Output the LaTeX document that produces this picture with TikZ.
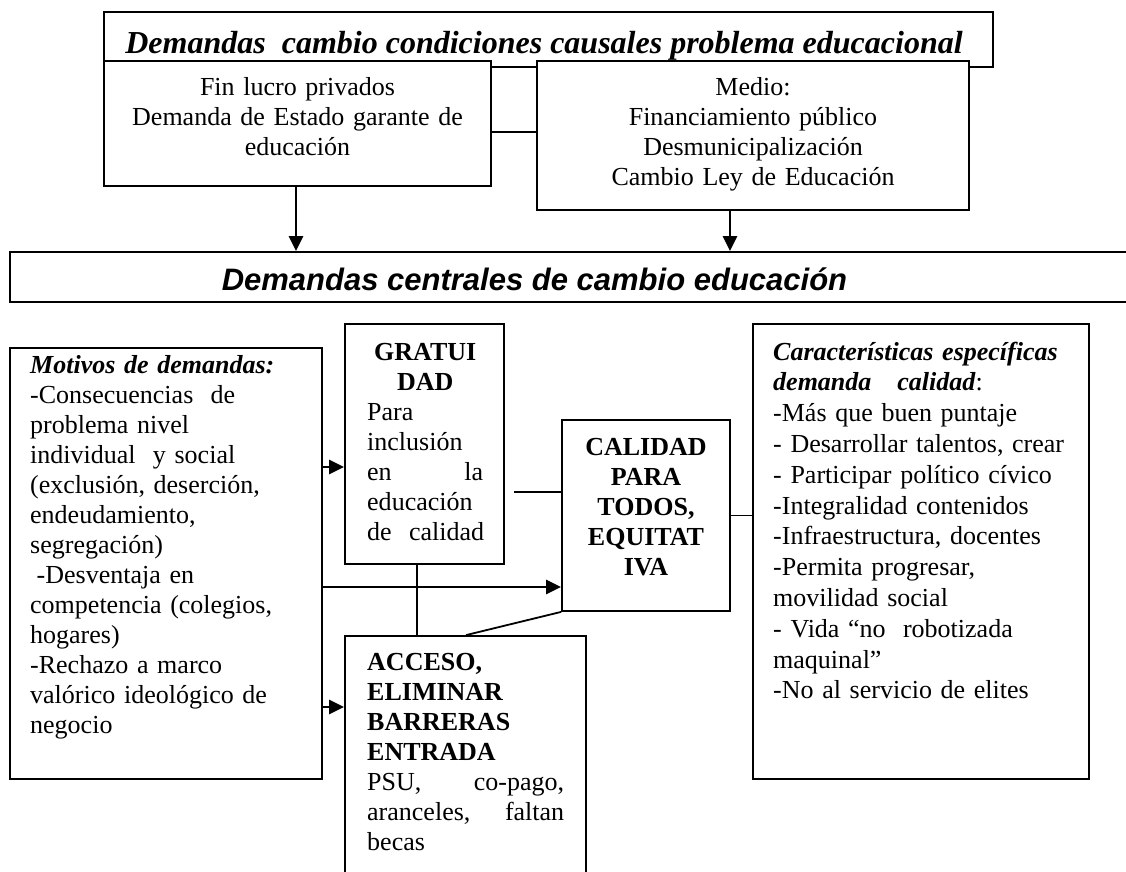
\documentclass[tikz,border=0pt]{standalone}
\usepackage{fontspec}
\setmainfont{Liberation Serif}
\setsansfont{Liberation Sans}
\usetikzlibrary{arrows.meta,fit}

\begin{document}
\begin{tikzpicture}[x=1pt,y=-1pt,
		box/.style={draw,line width=1.8pt,fill=white,inner sep=0pt},
		body/.style={font=\fontsize{26}{30}\selectfont,inner sep=0pt},
		head/.style={font=\fontsize{32}{36}\selectfont\bfseries\itshape,inner sep=0pt},
		band/.style={font=\sffamily\fontsize{31}{36}\selectfont\bfseries\itshape,inner sep=0pt},
		link/.style={line width=1.8pt},
		arr/.style={line width=2.6pt,-{Triangle[length=15pt,width=14pt]}}]
				\useasboundingbox (0,0) rectangle (1126,871);
				\node[box,fit={(104,12) (993,67)}] (causas) {};
				\node[head,anchor=base] (causastxt) at (544,53) {Demandas\ \ cambio condiciones causales problema educacional};
				\node[box,fit={(104,61) (491,186)}] (lucro) {};
				\node[body,anchor=base,text width=380pt,align=center] (lucrotxt) at (297.5,95) {Fin lucro privados\\Demanda de Estado garante de\\educación};
				\node[box,fit={(537,61) (969,210)}] (medio) {};
				\node[body,anchor=base,text width=420pt,align=center] (mediotxt) at (753,95) {Medio:\\Financiamiento público\\Desmunicipalización\\Cambio Ley de Educación};
				\node[box,fit={(10,252) (1140,302)}] (centrales) {};
				\node[band,anchor=base] (centralestxt) at (534.5,290) {Demandas centrales de cambio educación};
				\node[box,fit={(10,348) (322,779)}] (motivos) {};
				\node[body,anchor=base west,text width=290pt,align=left] (motivostxt) at (30,373) {\textbf{\textit{Motivos de demandas:}}\\-Consecuencias\ \ de\\problema nivel\\individual\ \ y social\\(exclusión, deserción,\\endeudamiento,\\segregación)\\\hspace*{6.5pt}-Desventaja en\\competencia (colegios,\\hogares)\\-Rechazo a marco\\valórico ideológico de\\negocio};
				\node[box,fit={(345,324) (504,564)}] (gratuidad) {};
				\node[body,anchor=base west,text width=124pt,align=left] (gratuidadtxt) at (367,360) {\makebox[116pt]{\bfseries GRATUI}\\\makebox[116pt]{\bfseries DAD}\\Para\\inclusión\\\makebox[116pt]{en\hfill la}\\educación\\\mbox{de\ \ calidad}};
				\node[box,fit={(562,420) (730,611)}] (calidad) {};
				\node[body,anchor=base,text width=168pt,align=center,font=\fontsize{26}{30}\selectfont\bfseries] (calidadtxt) at (646,455) {CALIDAD\\PARA\\TODOS,\\EQUITAT\\IVA};
				\node[box,fit={(345,636) (586,890)}] (acceso) {};
				\node[body,anchor=base west,text width=197pt,align=left] (accesotxt) at (367,670) {\textbf{ACCESO,}\\\textbf{ELIMINAR}\\\textbf{BARRERAS}\\\textbf{ENTRADA}\\PSU,\hfill co-pago,\\aranceles,\hfill faltan\\becas};
				\node[box,fit={(753,324) (1089,779)}] (rasgos) {};
				\node[body,anchor=base west,text width=316pt,align=left,font=\fontsize{26}{30.8}\selectfont] (rasgostxt) at (773,360) {\textbf{\textit{Características específicas}}\\\textbf{\textit{demanda\ \ \ calidad}}:\\-Más que buen puntaje\\- Desarrollar talentos, crear\\- Participar político cívico\\-Integralidad contenidos\\-Infraestructura, docentes\\-Permita progresar,\\movilidad social\\- Vida “no\ \ robotizada\\maquinal”\\-No al servicio de elites};
				\draw[link] (lucro.east |- 0,132) -- (medio.west |- 0,132);
				\draw[arr] (lucro.south -| 296,0) -- (centrales.north -| 296,0);
				\draw[arr] (medio.south -| 730,0) -- (centrales.north -| 730,0);
				\draw[arr] (motivos.east |- 0,467) -- (gratuidad.west |- 0,467);
				\draw[arr] (motivos.east |- 0,587) -- (calidad.west |- 0,587);
				\draw[arr] (motivos.east |- 0,707) -- (acceso.west |- 0,707);
				\draw[link] ([xshift=9pt]gratuidad.east |- 0,492) -- (calidad.west |- 0,492);
				\draw[link] (gratuidad.south -| 417,0) -- (acceso.north -| 417,0);
				\draw[link] (calidad.south west) -- (acceso.north -| 466,0);
				\draw[link] (calidad.east) -- (calidad.east -| rasgos.west);
			\end{tikzpicture}
\end{document}
